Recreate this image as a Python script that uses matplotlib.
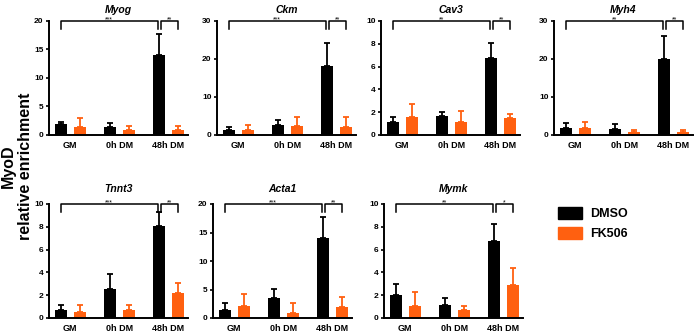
import numpy as np
import matplotlib
matplotlib.use("Agg")
import matplotlib.pyplot as plt
from matplotlib.patches import Patch

plt.rcParams['font.family'] = ['Liberation Sans', 'DejaVu Sans']

groups = ['GM', '0h DM', '48h DM']
genes = ['Myog', 'Ckm', 'Cav3', 'Myh4', 'Tnnt3', 'Acta1', 'Mymk']

dmso = [[1.85, 1.45, 14.1], [1.3, 2.6, 18.2], [1.14, 1.64, 6.73], [1.9, 1.6, 20.0],
        [0.68, 2.56, 8.03], [1.35, 3.5, 14.0], [2.0, 1.1, 6.73]]
dmso_err = [[0.35, 0.7, 3.7], [0.7, 1.3, 5.9], [0.41, 0.41, 1.37], [1.3, 1.3, 6.1],
            [0.44, 1.32, 1.29], [1.25, 1.65, 3.8], [0.94, 0.62, 1.52]]
fk506 = [[1.46, 0.88, 0.88], [1.3, 2.4, 2.2], [1.58, 1.14, 1.46], [1.85, 0.7, 0.7],
         [0.5, 0.73, 2.2], [2.16, 0.9, 2.0], [1.04, 0.71, 2.9]]
fk506_err = [[1.44, 0.7, 0.72], [1.3, 2.4, 2.6], [1.14, 0.99, 0.38], [1.55, 0.7, 0.7],
             [0.62, 0.45, 0.89], [1.99, 1.7, 1.74], [1.24, 0.33, 1.49]]
ymax = [20, 30, 10, 30, 10, 20, 10]
ystep = [5, 10, 2, 10, 2, 5, 2]
stars_main = ['***', '***', '**', '**', '***', '***', '**']
stars_fk = ['**', '**', '**', '**', '**', '**', '*']

dmso_color = '#000000'
fk_color = '#FF6010'

W, H = 696, 332
# left, top (pixels) for each panel
panel_px = [(49, 21), (217, 21), (381, 21), (554, 21),
            (49, 204), (213, 204), (384, 204)]
pw, ph = 139, 114

fig = plt.figure(figsize=(W / 100, H / 100), dpi=100)

x = np.arange(len(groups))
off, bw = 0.19, 0.25
for i, gene in enumerate(genes):
    lx, ty = panel_px[i]
    ax = fig.add_axes([lx / W, 1 - (ty + ph) / H, pw / W, ph / H])
    ax.bar(x - off, dmso[i], bw, color=dmso_color, zorder=2)
    ax.bar(x + off, fk506[i], bw, color=fk_color, zorder=2)
    ax.errorbar(x - off, dmso[i], yerr=[np.zeros(3), dmso_err[i]], fmt='none',
                ecolor=dmso_color, elinewidth=1.3, capsize=2.5, capthick=1.3, zorder=1)
    ax.errorbar(x + off, fk506[i], yerr=[np.zeros(3), fk506_err[i]], fmt='none',
                ecolor=fk_color, elinewidth=1.3, capsize=2.5, capthick=1.3, zorder=1)
    ax.set_xlim(-0.435, 2.4)
    ax.set_ylim(0, ymax[i])
    ax.set_yticks(np.arange(0, ymax[i] + 0.01, ystep[i]))
    ax.set_xticks(x)
    ax.set_xticklabels(groups, fontsize=6.5, fontweight='bold')
    for t in ax.get_yticklabels():
        t.set_fontsize(6)
        t.set_fontweight('bold')
    ax.tick_params(axis='x', length=0, pad=4)
    ax.tick_params(axis='y', length=2.5, width=1.2, pad=1.5)
    for s in ['top', 'right']:
        ax.spines[s].set_visible(False)
    for s in ['left', 'bottom']:
        ax.spines[s].set_linewidth(1.4)
    # significance brackets
    top = ymax[i]
    leg = 0.07 * top
    x1, x2 = -off, 2 - off - 0.03
    ax.plot([x1, x1, x2, x2], [top - leg, top, top, top - leg], color='k', lw=1.1, clip_on=False)
    ax.text((x1 + x2) / 2, top, stars_main[i], ha='center', va='baseline', fontsize=5)
    x3, x4 = 2 - off + 0.04, 2 + off
    ax.plot([x3, x3, x4, x4], [top - leg, top, top, top - leg], color='k', lw=1.1, clip_on=False)
    ax.text((x3 + x4) / 2, top, stars_fk[i], ha='center', va='baseline', fontsize=5)
    ax.set_title(gene, fontsize=7.5, fontstyle='italic', fontweight='bold',
                 pad=6 if i < 4 else 8.5)

fig.text(17 / W, 1 - 166 / H, 'MyoD\nrelative enrichment', rotation=90, ha='center',
         va='center', fontsize=11.5, fontweight='bold', linespacing=1.2)

handles = [Patch(color=dmso_color), Patch(color=fk_color)]
fig.legend(handles, ['DMSO', 'FK506'], loc='upper left', bbox_to_anchor=(558 / W, 1 - 207 / H),
           frameon=False, prop={'size': 9, 'weight': 'bold'}, handlelength=1.9,
           handleheight=1.05, handletextpad=0.65, labelspacing=0.55,
           borderpad=0, borderaxespad=0)

fig.savefig('out.png', dpi=100)
